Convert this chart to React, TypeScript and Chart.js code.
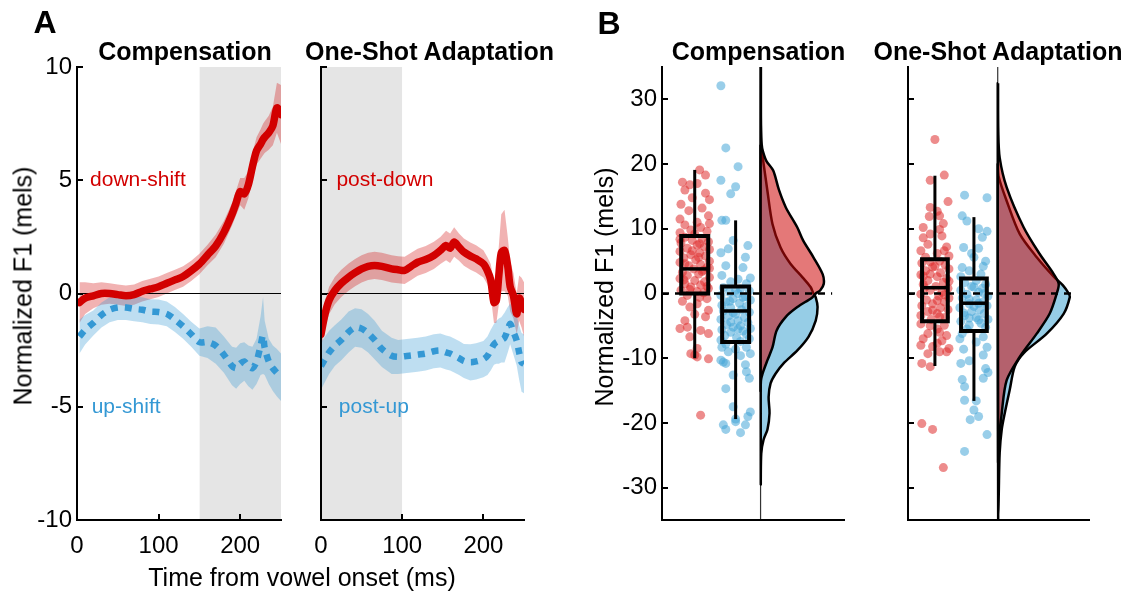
import React, { useEffect, useRef } from "react";
import { Chart, registerables } from "chart.js";

Chart.register(...registerables);

const FONT = 'Arial, "Liberation Sans", Helvetica, sans-serif';
Chart.defaults.font.family = FONT;

const RED = "#d20000";
const BLUE = "#3498d4";
const RED_BAND = "rgba(210,0,0,0.30)";
const BLUE_BAND = "rgba(52,152,212,0.32)";
const SHADE = "#e5e5e5";
const RED_PT = "rgba(222,45,45,0.55)";
const BLUE_PT = "rgba(70,165,215,0.55)";
const VIOLIN_RED = "rgba(206,10,10,0.55)";
const VIOLIN_BLUE = "#96cde6";

// ---------------- Panel A data ----------------
const T_COMP = [3, 10, 20, 30, 40, 50, 60, 70, 80, 90, 100, 110, 120, 130, 140, 150, 160, 170, 180, 190, 195, 200, 205, 210, 215, 220, 225, 228, 230, 235, 240, 245, 250];
const DOWN_SHIFT_MEAN = [-0.4, -0.2, -0.1, 0.0, 0.0, -0.05, -0.1, -0.05, 0.1, 0.2, 0.3, 0.45, 0.6, 0.75, 1.0, 1.3, 1.7, 2.1, 2.7, 3.5, 4.0, 4.5, 4.4, 4.8, 5.6, 6.3, 6.6, 6.8, 6.9, 7.1, 7.4, 8.2, 7.9];
const DOWN_SHIFT_SE = [0.9, 0.7, 0.55, 0.5, 0.45, 0.45, 0.45, 0.45, 0.45, 0.45, 0.45, 0.45, 0.45, 0.45, 0.45, 0.45, 0.45, 0.5, 0.5, 0.5, 0.55, 0.6, 0.7, 0.6, 0.6, 0.6, 0.65, 0.7, 0.7, 0.75, 0.85, 1.1, 1.3];
const UP_SHIFT_MEAN = [-1.9, -1.6, -1.3, -0.95, -0.72, -0.62, -0.62, -0.68, -0.72, -0.8, -0.82, -0.9, -1.15, -1.45, -1.8, -2.15, -2.15, -2.3, -2.7, -3.2, -3.3, -3.1, -3.0, -3.2, -3.3, -3.0, -2.3, -1.85, -2.4, -3.0, -3.3, -3.5, -3.7];
const UP_SHIFT_SE = [0.75, 0.65, 0.55, 0.55, 0.55, 0.55, 0.55, 0.55, 0.55, 0.55, 0.55, 0.55, 0.55, 0.55, 0.55, 0.6, 0.7, 0.8, 0.8, 0.85, 0.9, 0.9, 0.85, 0.9, 0.95, 1.0, 1.3, 1.7, 1.2, 1.0, 1.0, 1.05, 1.05];

const T_ADAPT = [0, 5, 10, 17, 25, 34, 42, 50, 58, 66, 75, 87, 95, 103, 111, 119, 129, 139, 147, 154, 159, 164, 170, 176, 184, 191, 200, 205, 209, 213, 216, 219, 222, 226, 230, 233, 237, 241, 244, 247, 250];
const POST_DOWN_MEAN = [-1.8, -0.9, -0.3, 0.13, 0.45, 0.72, 0.92, 1.09, 1.2, 1.24, 1.2, 1.09, 1.05, 1.02, 1.2, 1.38, 1.5, 1.68, 1.9, 2.12, 2.0, 2.27, 2.05, 1.83, 1.65, 1.53, 1.31, 1.0, 0.6, -0.4, -0.3, 0.8, 1.8, 1.9, 1.2, 0.3, -0.1, -0.9, -0.2, -0.4, -0.7];
const POST_DOWN_SE = [0.6, 0.6, 0.6, 0.6, 0.6, 0.6, 0.6, 0.6, 0.6, 0.6, 0.6, 0.6, 0.6, 0.6, 0.6, 0.6, 0.6, 0.6, 0.6, 0.65, 0.65, 0.65, 0.6, 0.6, 0.6, 0.6, 0.6, 0.6, 0.7, 0.9, 1.0, 1.3, 1.7, 1.8, 1.3, 1.1, 1.0, 0.9, 1.0, 1.1, 1.2];
const POST_UP_MEAN = [-3.2, -2.9, -2.6, -2.3, -2.05, -1.7, -1.5, -1.55, -1.75, -2.05, -2.45, -2.75, -2.8, -2.77, -2.74, -2.7, -2.65, -2.55, -2.52, -2.6, -2.65, -2.74, -2.85, -2.98, -3.04, -3.0, -2.9, -2.75, -2.5, -2.25, -2.15, -2.1, -2.05, -1.95, -1.6, -1.34, -1.7, -2.08, -2.6, -3.04, -3.1];
const POST_UP_SE = [1.05, 1.0, 0.95, 0.9, 0.9, 0.9, 0.85, 0.85, 0.85, 0.85, 0.8, 0.8, 0.75, 0.75, 0.75, 0.75, 0.75, 0.75, 0.75, 0.75, 0.75, 0.75, 0.75, 0.75, 0.8, 0.8, 0.8, 0.85, 0.9, 0.9, 0.95, 1.0, 1.0, 1.1, 1.0, 0.9, 1.0, 1.1, 1.2, 1.3, 1.3];

const COMP_WINDOW = [150, 250];
const ADAPT_WINDOW = [0, 100];
const A_Y_TICKS = [-10, -5, 0, 5, 10];
const A_X_TICKS = [0, 100, 200];

// ---------------- Panel B data ----------------
const B_Y_TICKS = [-30, -20, -10, 0, 10, 20, 30];
// [lower whisker, q1, median, q3, upper whisker]
const COMP_DOWN_BOX = [-10, 0, 3.8, 8.9, 19.1];
const COMP_UP_BOX = [-19.4, -7.5, -2.7, 1.1, 11.3];
const ADAPT_DOWN_BOX = [-11.2, -4.3, 0.9, 5.3, 18.2];
const ADAPT_UP_BOX = [-16.6, -5.8, -1.5, 2.3, 11.8];

// [value, horizontal jitter]
const COMP_DOWN_PTS = [
  [19.1, 0.1], [18.3, 0.22], [17.2, -0.25], [17.0, 0.05], [16.8, -0.1], [16.0, -0.2], [15.5, 0.22], [14.8, -0.05], [14.5, 0.3], [13.8, -0.28], [13.2, 0.15], [12.8, -0.12], [12.0, 0.28], [11.5, -0.3], [11.0, 0.05], [10.8, 0.3], [10.6, -0.2], [10.2, 0.12], [9.8, -0.08], [9.6, 0.25], [9.4, -0.3], [9.2, 0.0],
  [8.7, -0.2], [8.5, 0.15], [8.4, -0.3], [8.2, -0.05], [8.0, 0.28], [7.8, -0.28], [7.7, 0.1], [7.5, 0.05], [7.2, 0.2], [7.0, -0.15], [6.8, 0.3], [6.6, -0.05], [6.5, -0.3], [6.3, 0.1], [6.0, -0.08], [5.8, 0.22], [5.6, 0.08], [5.5, -0.22], [5.2, 0.02], [5.0, 0.3], [4.8, -0.3], [4.6, -0.2], [4.5, 0.12], [4.3, -0.12], [4.0, 0.25], [3.9, 0.3], [3.8, -0.02], [3.6, 0.18], [3.4, 0.15], [3.3, -0.25], [3.0, 0.08], [2.8, -0.15], [2.5, 0.3], [2.3, -0.3], [2.1, -0.22], [2.0, 0.0], [1.8, 0.2], [1.5, -0.2], [1.3, 0.12], [1.1, 0.25], [1.0, -0.08], [0.8, 0.28], [0.6, -0.1], [0.5, -0.28], [0.3, 0.05], [0.1, 0.18],
  [-0.3, -0.15], [-0.6, 0.1], [-0.8, 0.25], [-1.2, -0.25], [-1.6, 0.05], [-2.1, -0.1], [-2.6, 0.28], [-3.2, 0.0], [-3.6, 0.22], [-4.2, -0.2], [-5.2, -0.15], [-5.4, -0.3], [-5.7, 0.12], [-6.2, 0.28], [-6.7, -0.1], [-8.5, 0.05], [-9.3, -0.08], [-9.5, 0.0], [-9.8, 0.05], [-10.1, 0.28], [-18.8, 0.12],
];
const COMP_UP_PTS = [
  [32.1, -0.3], [22.5, -0.2], [19.6, 0.05], [17.5, -0.3], [16.5, 0.0], [15.4, -0.1], [11.3, -0.28], [11.3, -0.2], [8.2, -0.05], [7.4, 0.25], [6.9, -0.15], [6.3, -0.3], [5.6, 0.2], [4.3, -0.2], [4.0, 0.15], [2.8, -0.28], [2.4, 0.3], [2.2, 0.05], [1.8, -0.1], [1.5, 0.22],
  [0.9, -0.25], [0.7, 0.1], [0.5, 0.0], [0.4, 0.28], [0.2, -0.12], [0.0, 0.05], [-0.3, -0.3], [-0.5, 0.2], [-0.6, 0.15], [-0.8, -0.05], [-1.0, 0.3], [-1.2, -0.12], [-1.3, -0.2], [-1.5, 0.08], [-1.8, -0.28], [-2.0, 0.22], [-2.2, -0.1], [-2.5, 0.12], [-2.7, -0.25], [-2.9, 0.28], [-3.0, -0.05], [-3.2, 0.0], [-3.5, -0.15], [-3.7, 0.18], [-4.0, -0.3], [-4.2, 0.05], [-4.4, -0.1], [-4.5, 0.25], [-4.8, -0.18], [-5.0, 0.1], [-5.2, -0.05], [-5.4, 0.3], [-5.5, 0.05], [-5.6, -0.28], [-5.8, 0.15], [-6.0, -0.1], [-6.3, 0.22], [-6.5, -0.22], [-6.8, 0.02], [-7.0, 0.28], [-7.2, -0.3], [-7.4, 0.1],
  [-7.8, -0.2], [-8.3, -0.28], [-8.3, 0.22], [-8.6, 0.0], [-9.0, -0.15], [-9.3, 0.3], [-9.6, 0.1], [-10.3, -0.3], [-10.6, -0.25], [-10.8, -0.2], [-11.0, 0.2], [-12.1, 0.22], [-12.6, -0.05], [-13.1, 0.28], [-14.7, -0.2], [-17.5, -0.05], [-18.3, 0.3], [-19.0, 0.25], [-19.4, 0.0], [-19.8, 0.0], [-20.3, -0.25], [-20.3, 0.2], [-21.0, -0.2], [-21.5, 0.1],
];
const ADAPT_DOWN_PTS = [
  [23.8, 0.0], [18.3, 0.2], [17.5, -0.1], [14.2, 0.28], [13.3, -0.1], [12.7, 0.05], [12.0, 0.1], [11.9, -0.12], [10.8, 0.18], [10.2, -0.25], [9.9, 0.1], [9.2, -0.1], [8.9, 0.15], [8.6, -0.25], [7.6, -0.15], [7.2, 0.25], [6.6, -0.3], [6.6, 0.2], [6.2, 0.05], [5.8, 0.3], [5.6, -0.2],
  [5.0, 0.1], [4.9, -0.1], [4.7, -0.28], [4.4, 0.22], [4.2, 0.0], [4.1, -0.05], [3.8, 0.3], [3.5, -0.2], [3.2, 0.12], [3.0, -0.1], [2.9, -0.3], [2.7, -0.25], [2.6, 0.05], [2.3, 0.25], [2.0, -0.15], [1.9, 0.3], [1.7, 0.18], [1.4, -0.25], [1.1, 0.02], [0.9, -0.22], [0.8, 0.28], [0.5, -0.1], [0.2, 0.15], [-0.1, -0.3], [-0.2, 0.2], [-0.4, 0.08], [-0.7, 0.3], [-1.0, -0.18], [-1.1, 0.05], [-1.3, 0.2], [-1.6, -0.05], [-1.9, -0.28], [-2.2, 0.12], [-2.5, 0.28], [-2.6, -0.05], [-2.8, -0.15], [-3.1, 0.05], [-3.4, -0.3], [-3.6, 0.1], [-3.7, 0.22], [-4.0, -0.08],
  [-4.7, -0.3], [-4.9, 0.2], [-5.0, -0.1], [-5.5, 0.05], [-6.0, 0.1], [-6.2, -0.15], [-6.5, 0.25], [-7.0, -0.25], [-7.3, 0.15], [-7.7, 0.05], [-8.0, -0.3], [-8.2, -0.05], [-8.5, 0.3], [-9.0, 0.25], [-9.0, 0.1], [-9.3, -0.15], [-10.8, -0.28], [-11.3, -0.1], [-20.1, -0.28], [-21.0, -0.05], [-26.9, 0.18],
];
const ADAPT_UP_PTS = [
  [15.2, -0.2], [14.8, 0.28], [12.0, -0.25], [11.2, -0.15], [10.0, 0.1], [9.6, 0.28], [8.7, 0.18], [7.1, -0.22], [7.0, 0.1], [6.2, -0.05], [5.6, 0.0], [5.0, 0.25], [4.2, 0.2], [4.0, -0.25], [3.5, -0.1], [3.0, 0.15], [2.6, -0.28],
  [2.0, 0.05], [1.7, -0.2], [1.4, 0.25], [1.1, -0.05], [1.0, 0.0], [0.8, 0.18], [0.5, -0.28], [0.2, 0.1], [0.0, 0.22], [-0.1, -0.15], [-0.4, 0.3], [-0.7, -0.25], [-0.9, -0.1], [-1.0, 0.05], [-1.3, 0.2], [-1.5, 0.1], [-1.6, -0.1], [-1.9, 0.28], [-2.0, 0.0], [-2.2, -0.3], [-2.5, 0.12], [-2.8, -0.05], [-3.0, -0.22], [-3.1, 0.22], [-3.4, -0.2], [-3.7, 0.05], [-3.8, -0.1], [-4.0, 0.3], [-4.1, 0.1], [-4.3, -0.28], [-4.6, 0.15], [-4.9, -0.1], [-5.2, 0.25], [-5.5, -0.15],
  [-6.2, -0.25], [-6.7, 0.2], [-7.0, -0.3], [-7.5, 0.05], [-8.3, 0.28], [-8.6, -0.22], [-9.5, 0.2], [-10.4, -0.1], [-10.8, -0.28], [-11.6, 0.25], [-12.2, 0.3], [-13.1, 0.2], [-13.3, -0.25], [-14.4, -0.2], [-16.5, -0.2], [-16.6, 0.05], [-18.0, 0.0], [-19.0, 0.1], [-19.5, -0.08], [-21.8, 0.28], [-24.4, -0.2],
];

// kernel density estimates (value grid, density per mel)
const COMP_DOWN_KDE_Y = [35, 30, 26, 23, 22, 20.5, 19, 16, 13.3, 10.2, 8.2, 5.6, 3, 1.5, 0.5, 0, -0.6, -2.1, -3.6, -5.7, -8.3, -10.3, -12.4, -13.4, -15];
const COMP_DOWN_KDE = [0.0003, 0.0003, 0.0004, 0.001, 0.002, 0.005, 0.011, 0.016, 0.022, 0.032, 0.037, 0.046, 0.054, 0.055, 0.052, 0.048, 0.045, 0.032, 0.022, 0.014, 0.0104, 0.006, 0.0017, 0.0004, 0];
const COMP_UP_KDE_Y = [23, 21.5, 15.8, 10.7, 7.1, 4.6, 2.5, 1.0, 0, -0.6, -2.1, -4.2, -6.7, -8.8, -10.8, -12.4, -13.9, -16, -18.5, -21, -22.6, -24.7, -29.3];
const COMP_UP_KDE = [0, 0.0015, 0.006, 0.0104, 0.0174, 0.026, 0.0365, 0.0435, 0.046, 0.048, 0.0496, 0.048, 0.0417, 0.032, 0.02, 0.013, 0.0087, 0.007, 0.0078, 0.006, 0.0026, 0.0006, 0.0002];
const ADAPT_DOWN_KDE_Y = [32.5, 25, 21, 16.4, 10.2, 6.1, 3, 1.5, 0, -3.1, -6.2, -9.8, -13.4, -18.5, -23.6, -26];
const ADAPT_DOWN_KDE = [0.0003, 0.0005, 0.0017, 0.0078, 0.0226, 0.0365, 0.0487, 0.053, 0.0513, 0.0452, 0.0339, 0.0191, 0.0078, 0.0035, 0.0009, 0.0003];
const ADAPT_UP_KDE_Y = [20, 18, 14.3, 9.2, 5.6, 2.6, 1.3, 0, -0.6, -3.1, -6.2, -9.2, -11.3, -14.9, -18.5, -21, -24.6, -31, -35];
const ADAPT_UP_KDE = [0.0002, 0.0009, 0.0078, 0.0191, 0.0339, 0.0487, 0.0565, 0.0617, 0.0626, 0.0574, 0.0426, 0.0226, 0.0148, 0.0104, 0.0061, 0.0035, 0.0017, 0.0009, 0.0004];

// ---------------- helpers ----------------
type Pt = { x: number; y: number };

const series = (t: number[], v: number[]): Pt[] => t.map((x, i) => ({ x, y: v[i] }));
const bandEdge = (t: number[], m: number[], se: number[], s: number): Pt[] =>
  t.map((x, i) => ({ x, y: m[i] + s * se[i] }));

const lineDs = (data: Pt[], color: string, width: number, extra: any = {}) => ({
  data,
  borderColor: color,
  borderWidth: width,
  pointRadius: 0,
  fill: false,
  tension: 0,
  showLine: true,
  ...extra,
});

const withOrder = (list: any[]) => list.map((d, i) => ({ ...d, order: list.length - i }));

const inwardTicks = (doX: boolean) => ({
  id: "inwardTicks",
  afterDatasetsDraw(chart: any) {
    const { ctx, chartArea } = chart;
    const len = 6;
    ctx.save();
    ctx.strokeStyle = "#000";
    ctx.lineWidth = 2;
    const ys = chart.scales.y;
    for (const t of ys.ticks) {
      const py = Math.round(ys.getPixelForValue(t.value));
      ctx.beginPath();
      ctx.moveTo(chartArea.left, py);
      ctx.lineTo(chartArea.left + len, py);
      ctx.stroke();
    }
    if (doX) {
      const xs = chart.scales.x;
      for (const t of xs.ticks) {
        const px = Math.round(xs.getPixelForValue(t.value));
        ctx.beginPath();
        ctx.moveTo(px, chartArea.bottom);
        ctx.lineTo(px, chartArea.bottom - len);
        ctx.stroke();
      }
    }
    ctx.restore();
  },
});

const textLabels = (items: { x: number; y: number; text: string; color: string }[]) => ({
  id: "textLabels",
  afterDatasetsDraw(chart: any) {
    const { ctx } = chart;
    const xs = chart.scales.x;
    const ys = chart.scales.y;
    ctx.save();
    ctx.font = `21px ${FONT}`;
    ctx.textAlign = "left";
    ctx.textBaseline = "middle";
    for (const it of items) {
      ctx.fillStyle = it.color;
      ctx.fillText(it.text, xs.getPixelForValue(it.x), ys.getPixelForValue(it.y));
    }
    ctx.restore();
  },
});

const tickFont = { size: 24, family: FONT };

function buildA(canvas: HTMLCanvasElement, o: any) {
  const datasets = withOrder([
    lineDs(
      [{ x: o.window[0], y: 10 }, { x: o.window[1], y: 10 }],
      "rgba(0,0,0,0)",
      0,
      { backgroundColor: SHADE, fill: { value: -10 } }
    ),
    lineDs(bandEdge(o.t, o.downM, o.downSE, 1), "rgba(0,0,0,0)", 0, { backgroundColor: RED_BAND, fill: "+1" }),
    lineDs(bandEdge(o.t, o.downM, o.downSE, -1), "rgba(0,0,0,0)", 0),
    lineDs(bandEdge(o.t, o.upM, o.upSE, 1), "rgba(0,0,0,0)", 0, { backgroundColor: BLUE_BAND, fill: "+1" }),
    lineDs(bandEdge(o.t, o.upM, o.upSE, -1), "rgba(0,0,0,0)", 0),
    lineDs([{ x: 0, y: 0 }, { x: 250, y: 0 }], "#000", 1.2),
    lineDs(series(o.t, o.upM), BLUE, 6.5, { borderDash: [7, 7], borderCapStyle: "butt", tension: 0.3 }),
    lineDs(series(o.t, o.downM), RED, 7.5, { borderCapStyle: "round", borderJoinStyle: "round", tension: 0.3 }),
  ]);
  return new Chart(canvas, {
    type: "line",
    data: { datasets },
    options: {
      animation: false,
      responsive: true,
      maintainAspectRatio: false,
      events: [],
      layout: { padding: { top: 67, right: o.padRight, left: 0, bottom: 0 } },
      plugins: { legend: { display: false }, tooltip: { enabled: false } },
      scales: {
        x: {
          type: "linear",
          min: 0,
          max: 250,
          afterBuildTicks: (s: any) => { s.ticks = A_X_TICKS.map((v) => ({ value: v })); },
          afterFit: (s: any) => { s.height = 72; },
          grid: { display: false, drawTicks: false },
          border: { display: true, color: "#000", width: 2, z: 1 },
          ticks: { color: "#000", font: tickFont, padding: 12, maxRotation: 0, autoSkip: false },
        },
        y: {
          type: "linear",
          min: -10,
          max: 10,
          afterBuildTicks: (s: any) => { s.ticks = A_Y_TICKS.map((v) => ({ value: v })); },
          afterFit: (s: any) => { s.width = o.yWidth; },
          grid: { display: false, drawTicks: false },
          border: { display: true, color: "#000", width: 2, z: 1 },
          ticks: { display: o.showY, color: "#000", font: tickFont, padding: 5, callback: (v: any) => String(v) },
        },
      },
    } as any,
    plugins: [inwardTicks(true), textLabels(o.labels)],
  });
}

const BOX_HALF = 0.33;
const JITTER_SPREAD = 1.2;
const VIOLIN_BASE = 2.61;

function boxDs(c: number, b: number[]) {
  const [lo, q1, med, q3, hi] = b;
  const h = BOX_HALF;
  return [
    lineDs([{ x: c, y: lo }, { x: c, y: q1 }], "#000", 3),
    lineDs([{ x: c, y: q3 }, { x: c, y: hi }], "#000", 3),
    lineDs(
      [{ x: c - h, y: q1 }, { x: c + h, y: q1 }, { x: c + h, y: q3 }, { x: c - h, y: q3 }, { x: c - h, y: q1 }],
      "#000",
      4,
      { borderCapStyle: "square", borderJoinStyle: "miter" }
    ),
    lineDs([{ x: c - h, y: med }, { x: c + h, y: med }], "#000", 3.5),
  ];
}

function pointsDs(c: number, pts: number[][], color: string) {
  return {
    data: pts.map(([v, j]) => ({ x: c + j * JITTER_SPREAD, y: v })),
    showLine: false,
    pointRadius: 4.5,
    pointBorderWidth: 0,
    pointBackgroundColor: color,
    backgroundColor: color,
    borderColor: "rgba(0,0,0,0)",
    fill: false,
  };
}

function violinDs(ys: number[], ds: number[], scale: number, color: string) {
  const pts: Pt[] = ys.map((y, i) => ({ x: VIOLIN_BASE + ds[i] * scale, y }));
  pts.push({ x: VIOLIN_BASE, y: ys[0] }, { ...pts[0] });
  return {
    data: pts,
    borderColor: "#000",
    borderWidth: 2.5,
    backgroundColor: color,
    fill: "shape",
    tension: 0.3,
    pointRadius: 0,
    showLine: true,
    borderJoinStyle: "round",
  };
}

function buildB(canvas: HTMLCanvasElement, o: any) {
  const datasets = withOrder([
    pointsDs(1, o.downPts, RED_PT),
    pointsDs(2, o.upPts, BLUE_PT),
    ...boxDs(1, o.downBox),
    ...boxDs(2, o.upBox),
    lineDs([{ x: VIOLIN_BASE, y: -35 }, { x: VIOLIN_BASE, y: 35 }], "#333", 1.2),
    violinDs(o.upKdeY, o.upKde, o.vScale, VIOLIN_BLUE),
    violinDs(o.downKdeY, o.downKde, o.vScale, VIOLIN_RED),
    lineDs([{ x: o.xmin, y: 0 }, { x: o.dashEnd, y: 0 }], "#000", 2.5, { borderDash: [7, 6] }),
  ]);
  return new Chart(canvas, {
    type: "line",
    data: { datasets },
    options: {
      animation: false,
      responsive: true,
      maintainAspectRatio: false,
      events: [],
      layout: { padding: { top: 67, right: o.padRight, left: 0, bottom: 0 } },
      plugins: { legend: { display: false }, tooltip: { enabled: false } },
      scales: {
        x: {
          type: "linear",
          min: o.xmin,
          max: o.xmax,
          afterFit: (s: any) => { s.height = 72; },
          grid: { display: false, drawTicks: false },
          border: { display: true, color: "#000", width: 2, z: 1 },
          ticks: { display: false },
        },
        y: {
          type: "linear",
          min: -35,
          max: 35,
          afterBuildTicks: (s: any) => { s.ticks = B_Y_TICKS.map((v) => ({ value: v })); },
          afterFit: (s: any) => { s.width = o.yWidth; },
          grid: { display: false, drawTicks: false },
          border: { display: true, color: "#000", width: 2, z: 1 },
          ticks: { display: o.showY, color: "#000", font: tickFont, padding: 5, callback: (v: any) => String(v) },
        },
      },
    } as any,
    plugins: [inwardTicks(false)],
  });
}

function Label(p: { x: number; y: number; text: string; size: number; bold?: boolean; rotate?: boolean }) {
  return (
    <div
      style={{
        position: "absolute",
        left: p.x,
        top: p.y,
        transform: `translate(-50%,-50%)${p.rotate ? " rotate(-90deg)" : ""}`,
        fontSize: p.size,
        fontWeight: p.bold ? 700 : 400,
        lineHeight: 1,
        whiteSpace: "nowrap",
        fontFamily: FONT,
        color: "#000",
      }}
    >
      {p.text}
    </div>
  );
}

const box = (left: number, width: number): React.CSSProperties => ({
  position: "absolute",
  left,
  top: 0,
  width,
  height: 592,
});

export default function App() {
  const a1 = useRef<HTMLCanvasElement>(null);
  const a2 = useRef<HTMLCanvasElement>(null);
  const b1 = useRef<HTMLCanvasElement>(null);
  const b2 = useRef<HTMLCanvasElement>(null);

  useEffect(() => {
    const charts = [
      buildA(a1.current!, {
        t: T_COMP, downM: DOWN_SHIFT_MEAN, downSE: DOWN_SHIFT_SE, upM: UP_SHIFT_MEAN, upSE: UP_SHIFT_SE,
        window: COMP_WINDOW, showY: true, yWidth: 77, padRight: 19,
        labels: [
          { x: 16, y: 5, text: "down-shift", color: RED },
          { x: 18, y: -5, text: "up-shift", color: BLUE },
        ],
      }),
      buildA(a2.current!, {
        t: T_ADAPT, downM: POST_DOWN_MEAN, downSE: POST_DOWN_SE, upM: POST_UP_MEAN, upSE: POST_UP_SE,
        window: ADAPT_WINDOW, showY: false, yWidth: 21, padRight: 16,
        labels: [
          { x: 19, y: 5, text: "post-down", color: RED },
          { x: 22, y: -5, text: "post-up", color: BLUE },
        ],
      }),
      buildB(b1.current!, {
        downPts: COMP_DOWN_PTS, upPts: COMP_UP_PTS, downBox: COMP_DOWN_BOX, upBox: COMP_UP_BOX,
        downKdeY: COMP_DOWN_KDE_Y, downKde: COMP_DOWN_KDE, upKdeY: COMP_UP_KDE_Y, upKde: COMP_UP_KDE,
        xmin: 0.2, xmax: 4.65, dashEnd: 4.36, vScale: 28.1, showY: true, yWidth: 47, padRight: 21,
      }),
      buildB(b2.current!, {
        downPts: ADAPT_DOWN_PTS, upPts: ADAPT_UP_PTS, downBox: ADAPT_DOWN_BOX, upBox: ADAPT_UP_BOX,
        downKdeY: ADAPT_DOWN_KDE_Y, downKde: ADAPT_DOWN_KDE, upKdeY: ADAPT_UP_KDE_Y, upKde: ADAPT_UP_KDE,
        xmin: 0.31, xmax: 4.95, dashEnd: 4.64, vScale: 29.5, showY: false, yWidth: 28, padRight: 41,
      }),
    ];
    return () => charts.forEach((c) => c.destroy());
  }, []);

  return (
    <div style={{ position: "absolute", left: 0, top: 0, width: 1130, height: 592, background: "#fff", overflow: "hidden" }}>
      <div style={box(0, 300)}><canvas ref={a1} /></div>
      <div style={box(300, 240)}><canvas ref={a2} /></div>
      <div style={box(615, 250)}><canvas ref={b1} /></div>
      <div style={box(880, 250)}><canvas ref={b2} /></div>

      <Label x={45} y={21.5} text="A" size={32} bold />
      <Label x={609} y={22.5} text="B" size={32} bold />
      <Label x={185} y={51} text="Compensation" size={25} bold />
      <Label x={429.5} y={51} text="One-Shot Adaptation" size={25} bold />
      <Label x={758.5} y={51} text="Compensation" size={25} bold />
      <Label x={998} y={51} text="One-Shot Adaptation" size={25} bold />
      <Label x={302} y={577} text="Time from vowel onset (ms)" size={25} />
      <Label x={22.5} y={286} text="Normalized F1 (mels)" size={25} rotate />
      <Label x={604} y={287} text="Normalized F1 (mels)" size={25} rotate />
    </div>
  );
}
